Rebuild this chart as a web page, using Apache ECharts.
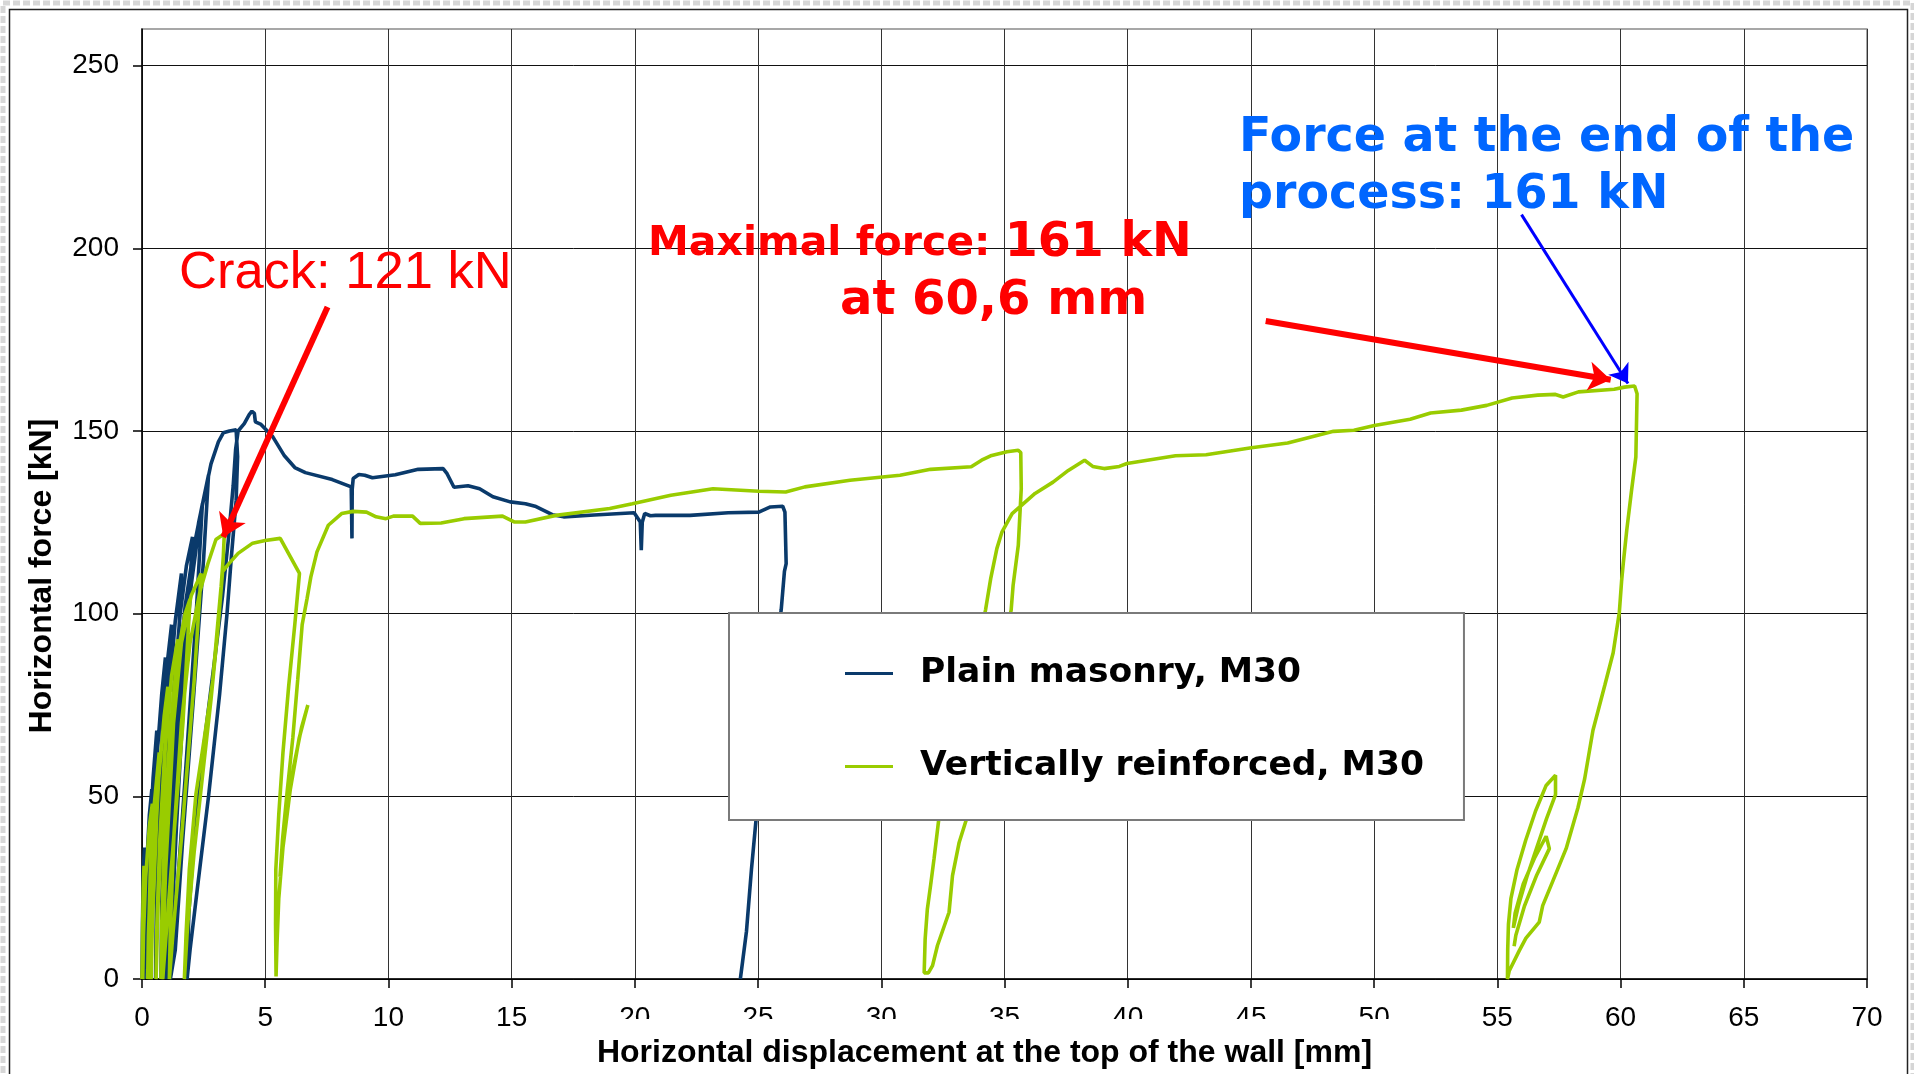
<!DOCTYPE html>
<html>
<head>
<meta charset="utf-8">
<script src="https://cdn.jsdelivr.net/npm/echarts@6/dist/echarts.min.js"></script>
<style>
html,body{margin:0;padding:0;background:#fff;}
#chart{width:1914px;height:1074px;}
</style>
</head>
<body>
<div id="chart"></div>
<script>
// ---- axis settings ----
const X_MIN = 0, X_MAX = 70, X_STEP = 5;
const Y_MIN = 0, Y_MAX = 260, Y_STEP = 50;
const xAxisTitle = 'Horizontal displacement at the top of the wall [mm]';
const yAxisTitle = 'Horizontal force [kN]';
const seriesNames = ['Plain masonry, M30', 'Vertically reinforced, M30'];

// ---- series: [displacement mm, force kN] ----
const plainMasonry = [
[0,0],[0.02,15],[0.05,30],[0.1,36],[0.08,20],[0.06,5],[0.05,0],
[0.08,12],[0.18,30],[0.3,45],[0.4,52],[0.3,30],[0.22,10],[0.2,0],
[0.22,15],[0.3,35],[0.45,55],[0.6,68],[0.5,45],[0.38,18],[0.35,0],
[0.38,15],[0.48,40],[0.62,62],[0.8,78],[0.95,88],[0.8,60],[0.62,28],[0.55,0],
[0.58,18],[0.68,45],[0.85,70],[1.05,88],[1.2,97],[1.05,70],[0.85,35],[0.77,0],
[0.8,20],[0.92,50],[1.1,78],[1.35,98],[1.6,111],[1.4,80],[1.1,38],[0.97,0],
[1.0,22],[1.12,52],[1.3,80],[1.55,100],[1.8,113],[2.05,121],[1.8,90],[1.4,42],[1.1,0],
[1.12,20],[1.25,50],[1.45,80],[1.75,102],[2.1,118],[2.45,130],[2.2,100],[1.75,55],[1.3,12],[1.12,0],
[1.15,20],[1.3,50],[1.55,80],[1.85,104],[2.3,125],[2.7,138],[2.5,115],[2.1,78],[1.65,38],[1.35,8],[1.15,0],
[1.2,20],[1.4,50],[1.65,80],[2.0,108],[2.4,128],[2.8,141],[3.1,147],[3.3,149.5],[3.55,150],[3.82,150.3],
[3.88,143],[3.82,131],[3.62,115],[3.45,100],[3.15,78],[2.7,50],[2.25,25],[1.95,8],[1.83,0],
[1.9,18],[2.15,42],[2.55,66],[2.94,87],[3.27,105],[3.5,120],[3.7,135],[3.8,145],[3.9,150],[4.15,152],
[4.35,154.5],[4.46,155.4],[4.56,154.8],[4.6,152.5],[4.83,151.8],[5.31,148.4],[5.78,143.2],[6.2,140],
[6.63,138.6],[7.72,136.7],[8.49,134.7],[8.52,120.6],[8.53,134],[8.57,137],[8.8,138.1],[9.04,137.9],
[9.35,137.2],[10.28,138],[11.21,139.5],[12.22,139.7],[12.38,138.3],[12.66,134.6],[13.23,135],[13.7,134.2],
[14.24,132],[14.94,130.6],[15.56,130.1],[15.95,129.4],[16.65,127.1],[17.11,126.5],[18.35,127],[19.97,127.6],
[20.22,125.1],[20.26,117.4],[20.3,125],[20.4,127.4],[20.63,126.8],[20.84,126.9],[22.24,126.9],[23.79,127.6],
[25.03,127.8],[25.5,129.2],[26.0,129.4],[26.09,127.8],[26.14,113.7],[26.07,111.6],[25.94,101.2],
[24.93,44.5],[24.73,29.9],[24.53,13.1],[24.37,4.7],[24.28,0]
];

const verticallyReinforced = [
[0,0],[0.02,12],[0.05,25],[0.08,31],[0.06,14],[0.03,0],
[0.06,12],[0.15,28],[0.3,42],[0.42,48],[0.33,28],[0.26,10],[0.23,0],
[0.26,12],[0.35,30],[0.5,48],[0.7,62],[0.56,38],[0.42,15],[0.37,0],
[0.4,12],[0.5,32],[0.68,55],[0.9,72],[1.05,80],[0.86,50],[0.66,22],[0.57,0],
[0.6,14],[0.72,38],[0.92,62],[1.2,83],[1.45,93],[1.22,62],[0.92,25],[0.77,0],
[0.8,15],[0.92,40],[1.12,66],[1.42,88],[1.75,100],[1.95,104],[1.66,70],[1.16,28],[0.84,0],
[0.88,14],[1.0,38],[1.25,68],[1.6,92],[2.0,105],[2.4,111],[2.12,82],[1.62,40],[1.25,12],[1.11,0],
[1.15,14],[1.3,40],[1.6,70],[1.95,92],[2.35,106],[2.67,113.6],[3.0,120.3],[3.34,121.9],[3.3,115.7],
[3.21,107.4],[3.07,97],[2.87,81.6],[2.53,66],[2.19,50.7],[1.92,30],[1.79,12.6],[1.72,0],
[1.85,14.6],[2.12,35],[2.46,55.9],[2.8,76.5],[3.07,95],[3.27,111.5],[3.5,113.5],[3.9,116.5],[4.49,119.3],
[5.0,120],[5.61,120.6],[6.39,111],[6.2,97],[5.95,80],[5.72,62],[5.55,45],[5.43,30],[5.42,15],[5.44,0.7],
[5.48,10],[5.55,22],[5.72,36],[6.02,52],[6.38,66],[6.73,75],[6.48,69],[6.15,58],[5.85,45],[5.65,32],[5.6,28],
[5.7,38],[5.9,52],[6.12,66],[6.32,82],[6.5,97],[6.7,104.2],[6.85,110],[7.1,116.9],[7.56,124.2],[8.1,127.4],
[8.57,128],[9.11,127.8],[9.5,126.5],[9.9,126],[10.2,126.7],[10.98,126.7],[11.29,124.7],[12.14,124.8],
[13.07,126],[14.63,126.7],[15.1,125.1],[15.56,125.1],[16.8,126.9],[18.98,128.8],[19.9,130.1],[21.46,132.4],
[23.17,134.2],[25.03,133.5],[26.12,133.3],[26.9,134.7],[28.73,136.5],[30.76,137.9],[32.0,139.5],[33.65,140.2],
[34.07,142],[34.48,143.3],[35.1,144.3],[35.56,144.7],[35.66,144.1],[35.68,134.2],[35.56,118.7],[35.35,107.8],
[35.27,101],[33.5,44.7],[33.16,37.4],[32.89,28.3],[32.75,18.3],[32.28,9.2],[32.08,3.7],[31.91,1.7],[31.74,1.7],
[31.78,11],[31.87,19.2],[32.0,25.6],[32.14,32.9],[32.35,44.7],[34.23,101],[34.44,109.6],[34.69,117.8],
[34.9,122.4],[35.31,127.4],[36.24,132.9],[36.97,136],[37.59,139.2],[38.25,142],[38.58,140.3],[39.04,139.7],
[39.66,140.3],[39.97,141.1],[41.94,143.2],[43.18,143.5],[45.02,145.4],[46.49,146.7],[48.35,149.9],[49.18,150.2],
[50.01,151.5],[51.46,153.2],[52.29,154.9],[53.54,155.7],[54.57,157],[55.6,159],[56.64,159.8],[57.36,160],
[57.67,159.3],[58.29,160.7],[59.74,161.4],[60.16,162],[60.57,162.3],[60.67,160.2],[60.62,142.9],[60.45,134],
[60.25,122.8],[60.11,113.8],[60.04,108.8],[59.95,100.4],[59.7,89.3],[59.36,80.4],[58.88,68.1],[58.54,54.7],
[58.27,46.9],[57.79,35.7],[57.25,26.8],[56.84,20.1],[56.7,15.6],[56.16,11.2],[55.89,7.8],[55.48,2.2],[55.41,0],
[55.42,8],[55.45,15],[55.55,22],[55.8,30],[56.15,38],[56.55,46],[56.98,53],[57.36,55.8],[57.36,50.5],[57.0,44],
[56.6,36],[56.2,28],[55.85,20],[55.65,14],[55.72,18],[56.05,26],[56.5,33],[56.98,39.1],[57.11,35.7],[56.6,28.5],
[56.1,20],[55.75,12],[55.68,9]
];

// ---- annotation arrows (data coordinates: [mm, kN]) ----
const crackArrow = [[7.53, 183.9], [3.3, 121.0]];
const maxForceArrow = [[45.6, 180.1], [59.6, 164.0]];
const endForceArrow = [[55.98, 209.2], [60.3, 163.0]];

const chart = echarts.init(document.getElementById('chart'), null, {renderer: 'canvas'});

const BLUE = '#0a3a6b';
const GREEN = '#99cc00';

function arrowSeries(name, coords, color, width, size) {
  return {
    name: name,
    type: 'lines',
    coordinateSystem: 'cartesian2d',
    polyline: false,
    silent: true,
    z: 10,
    symbol: ['none', 'arrow'],
    symbolSize: size,
    lineStyle: {color: color, width: width, opacity: 1, curveness: 0},
    data: [{coords: coords}]
  };
}

const option = {
  animation: false,
  backgroundColor: '#ffffff',
  grid: {
    left: 142, right: 47, top: 29, bottom: 94,
    show: true, borderColor: '#8a8a8a', borderWidth: 1.5, backgroundColor: 'transparent'
  },
  xAxis: {
    type: 'value', min: X_MIN, max: X_MAX, interval: X_STEP,
    name: xAxisTitle, nameLocation: 'middle', nameGap: 50,
    nameTextStyle: {fontFamily: 'Liberation Sans, Arial, sans-serif', fontWeight: 'bold', fontSize: 32, color: '#000', padding: [0, 40, 0, 0]},
    axisLine: {show: true, lineStyle: {color: '#000', width: 1.5}},
    axisTick: {show: true, length: 9, lineStyle: {color: '#000', width: 1.5}},
    axisLabel: {fontFamily: 'Liberation Sans, Arial, sans-serif', fontSize: 28, color: '#000', margin: 25},
    splitLine: {show: true, lineStyle: {color: '#333', width: 1}}
  },
  yAxis: {
    type: 'value', min: Y_MIN, max: Y_MAX, interval: Y_STEP,
    name: yAxisTitle, nameLocation: 'middle', nameGap: 84,
    nameTextStyle: {fontFamily: 'Liberation Sans, Arial, sans-serif', fontWeight: 'bold', fontSize: 32, color: '#000', padding: [0, 144, 0, 0]},
    axisLine: {show: true, lineStyle: {color: '#000', width: 1.5}},
    axisTick: {show: true, length: 9, lineStyle: {color: '#000', width: 1.5}},
    axisLabel: {fontFamily: 'Liberation Sans, Arial, sans-serif', fontSize: 28, color: '#000', margin: 23, showMaxLabel: false},
    splitLine: {show: true, showMaxLine: false, lineStyle: {color: '#111', width: 1}}
  },
  legend: {
    orient: 'vertical', left: 729, top: 613,
    padding: [43, 40, 36, 116],
    itemGap: 58, itemWidth: 48, itemHeight: 3,
    backgroundColor: '#ffffff', borderColor: '#7a7a7a', borderWidth: 2,
    textStyle: {fontFamily: 'DejaVu Sans, Verdana, sans-serif', fontWeight: 'bold', fontSize: 34.5, color: '#000', padding: [0, 0, 0, 22]},
    data: [{name: seriesNames[0], icon: 'rect'}, {name: seriesNames[1], icon: 'rect'}]
  },
  series: [
    {
      name: seriesNames[0], type: 'line', data: plainMasonry,
      showSymbol: false, symbol: 'none', smooth: false, z: 3,
      itemStyle: {color: BLUE}, lineStyle: {color: BLUE, width: 3.6}
    },
    {
      name: seriesNames[1], type: 'line', data: verticallyReinforced,
      showSymbol: false, symbol: 'none', smooth: false, z: 3,
      itemStyle: {color: GREEN}, lineStyle: {color: GREEN, width: 3.6}
    },
    arrowSeries('crack arrow', crackArrow, '#ff0000', 6, 22),
    arrowSeries('max force arrow', maxForceArrow, '#ff0000', 6, 22),
    arrowSeries('end force arrow', endForceArrow, '#0000ff', 3, 18)
  ],
  graphic: [
    {type: 'rect', z: 0, silent: true, shape: {x: 9.5, y: 9.5, width: 1898, height: 1100},
      style: {fill: 'none', stroke: '#222', lineWidth: 1.5}},
    {type: 'rect', z: 0, silent: true, shape: {x: 3, y: 3, width: 1910, height: 1100},
      style: {fill: 'none', stroke: '#d6d6d6', lineWidth: 5, lineDash: [7, 3]}},
    {type: 'rect', z: 100, silent: true, shape: {x: 614, y: 1019, width: 780, height: 13},
      style: {fill: '#ffffff'}},
    {type: 'text', z: 100, x: 179, y: 274, silent: true,
      style: {text: 'Crack: 121 kN', fontFamily: 'Liberation Sans, Arial, sans-serif', fontSize: 52.5,
        fill: '#ff0000', align: 'left', verticalAlign: 'middle'}},
    {type: 'text', z: 100, x: 648, y: 244, silent: true,
      style: {text: '{a|Maximal force: }{b|161 kN}', fill: '#ff0000', align: 'left', verticalAlign: 'middle',
        rich: {
          a: {fontFamily: 'DejaVu Sans, Verdana, sans-serif', fontWeight: 'bold', fontSize: 41, fill: '#ff0000'},
          b: {fontFamily: 'DejaVu Sans, Verdana, sans-serif', fontWeight: 'bold', fontSize: 47.5, fill: '#ff0000'}
        }}},
    {type: 'text', z: 100, x: 840, y: 302, silent: true,
      style: {text: 'at 60,6 mm', fontFamily: 'DejaVu Sans, Verdana, sans-serif', fontWeight: 'bold', fontSize: 48,
        fill: '#ff0000', align: 'left', verticalAlign: 'middle'}},
    {type: 'text', z: 100, x: 1239, y: 139, silent: true,
      style: {text: 'Force at the end of the', fontFamily: 'DejaVu Sans, Verdana, sans-serif', fontWeight: 'bold', fontSize: 47.5,
        fill: '#0066ff', align: 'left', verticalAlign: 'middle'}},
    {type: 'text', z: 100, x: 1239, y: 196, silent: true,
      style: {text: 'process: 161 kN', fontFamily: 'DejaVu Sans, Verdana, sans-serif', fontWeight: 'bold', fontSize: 47.5,
        fill: '#0066ff', align: 'left', verticalAlign: 'middle'}}
  ]
};
chart.setOption(option);
</script>
</body>
</html>
